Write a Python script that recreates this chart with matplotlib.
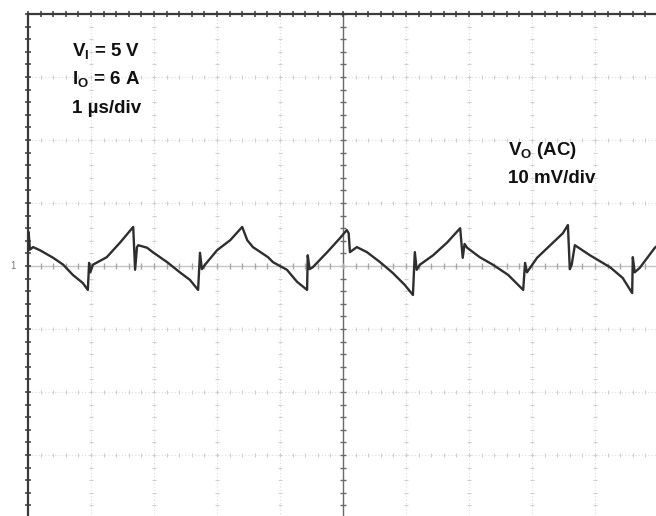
import matplotlib.pyplot as plt
import numpy as np

plt.rcParams['font.family'] = ['Liberation Sans', 'DejaVu Sans']
plt.rcParams['mathtext.fontset'] = 'custom'
plt.rcParams['mathtext.rm'] = 'Liberation Sans:bold'
plt.rcParams['mathtext.bf'] = 'Liberation Sans:bold'

# output ripple, time in us (1 us/div), voltage in mV (10 mV/div)
t_us = [0.00, 0.01, 0.03, 0.08, 0.19, 0.40, 0.56, 0.71, 0.87, 0.95,
        0.97, 0.99, 1.03, 1.25, 1.46, 1.67, 1.70, 1.73, 1.75, 1.89,
        1.98, 2.21, 2.41, 2.57, 2.70, 2.73, 2.76, 2.81, 3.00, 3.21,
        3.40, 3.48, 3.57, 3.81, 3.89, 4.11, 4.27, 4.43, 4.44, 4.47,
        4.52, 4.75, 4.95, 5.06, 5.09, 5.11, 5.22, 5.38, 5.59, 5.79,
        5.98, 6.11, 6.14, 6.17, 6.22, 6.43, 6.65, 6.86, 6.90, 6.93,
        6.97, 7.17, 7.38, 7.62, 7.86, 7.89, 7.92, 8.08, 8.29, 8.49,
        8.57, 8.60, 8.63, 8.68, 8.92, 9.24, 9.44, 9.59, 9.60, 9.63,
        9.71, 9.95, 10.0]
v_mv = [2.5, 5.4, 2.6, 3.0, 2.5, 1.3, 0.2, -1.4, -2.7, -3.8,
        0.5, -1.0, 0.2, 1.4, 3.7, 6.2, -0.6, 3.0, 3.3, 2.9,
        2.2, 0.6, -1.0, -2.2, -3.8, 2.1, -0.5, 0.2, 2.5, 4.1,
        6.2, 4.1, 3.0, 1.4, 0.6, -0.6, -2.5, -3.8, 1.7, -0.5,
        -0.2, 2.2, 4.4, 5.7, 5.2, 2.2, 3.0, 2.2, 0.6, -1.1,
        -3.0, -4.6, 2.2, -0.6, 0.2, 1.7, 3.7, 6.0, 1.3, 3.5,
        2.9, 1.4, 0.2, -1.4, -3.8, 0.5, -1.0, 1.3, 3.3, 5.2,
        6.5, -0.5, 0.2, 3.3, 1.7, -0.2, -1.9, -4.3, 1.4, -1.0,
        -0.3, 2.9, 3.3]

x_div = np.arange(0, 11, 1.0)
y_div = np.arange(-40, 41, 10.0)
x_minor = np.arange(0, 10.01, 0.2)
y_minor = np.arange(-40, 40.01, 2.0)

fig = plt.figure(figsize=(6.56, 5.16), dpi=100)
ax = fig.add_axes([28 / 656, -2 / 516, 630 / 656, 504 / 516])
ax.set_xlim(0, 10)
ax.set_ylim(-40, 40)
ax.set_xticks([])
ax.set_yticks([])
for s in ['right', 'bottom']:
    ax.spines[s].set_visible(False)
for s in ['left', 'top']:
    ax.spines[s].set_color('#3a3a3a')
    ax.spines[s].set_linewidth(1.6)

# dotted graticule with small marks along each division line
for x in x_div[1:]:
    if x == 5:
        continue
    ax.axvline(x, color='#dcdcdc', lw=0.8, ls=(0, (1, 2)), zorder=1)
    ax.plot([x] * len(y_minor), y_minor, ls='none', marker='_', ms=3.5,
            mew=0.8, color='#cfcfcf', zorder=1)
for y in y_div[1:-1]:
    if y == 0:
        continue
    ax.axhline(y, color='#dcdcdc', lw=0.8, ls=(0, (1, 2)), zorder=1)
    ax.plot(x_minor, [y] * len(x_minor), ls='none', marker='|', ms=3.5,
            mew=0.8, color='#cfcfcf', zorder=1)

# centre axes
ax.axvline(5, color='#6a6a6a', lw=1.0, zorder=2)
ax.plot([5] * len(y_minor), y_minor, ls='none', marker='_', ms=5,
        mew=1.0, color='#6a6a6a', zorder=2)
ax.axhline(0, color='#c4c4c4', lw=1.0, zorder=2)
ax.plot(x_minor, [0] * len(x_minor), ls='none', marker='|', ms=5,
        mew=1.0, color='#a8a8a8', zorder=2)

# marks on the outer border
ax.plot([0] * len(y_minor), y_minor, ls='none', marker='_', ms=4,
        mew=1.1, color='#3a3a3a', clip_on=False, zorder=3)
ax.plot(x_minor, [40] * len(x_minor), ls='none', marker='|', ms=4,
        mew=1.1, color='#3a3a3a', clip_on=False, zorder=3)

ax.plot(t_us, v_mv, color='#2e2e2e', lw=1.7, zorder=4)

fig.text(10 / 656, 1 - 266 / 516, '1', fontsize=7, color='#777777',
         ha='left', va='center')

kw = dict(fontsize=13.5, fontweight='bold', color='#111111', ha='left',
          va='baseline')
fig.text(72 / 656, 1 - 57 / 516, r'V$_{\mathrm{I}}$ = 5 V', **kw)
fig.text(72 / 656, 1 - 85 / 516, r'I$_{\mathrm{O}}$ = 6 A', **kw)
fig.text(72 / 656, 1 - 113 / 516, '1 \u00b5s/div', **kw)
fig.text(508 / 656, 1 - 155 / 516, r'V$_{\mathrm{O}}$ (AC)', **kw)
fig.text(508 / 656, 1 - 183 / 516, '10 mV/div', **kw)

fig.savefig('out.png', dpi=100)
